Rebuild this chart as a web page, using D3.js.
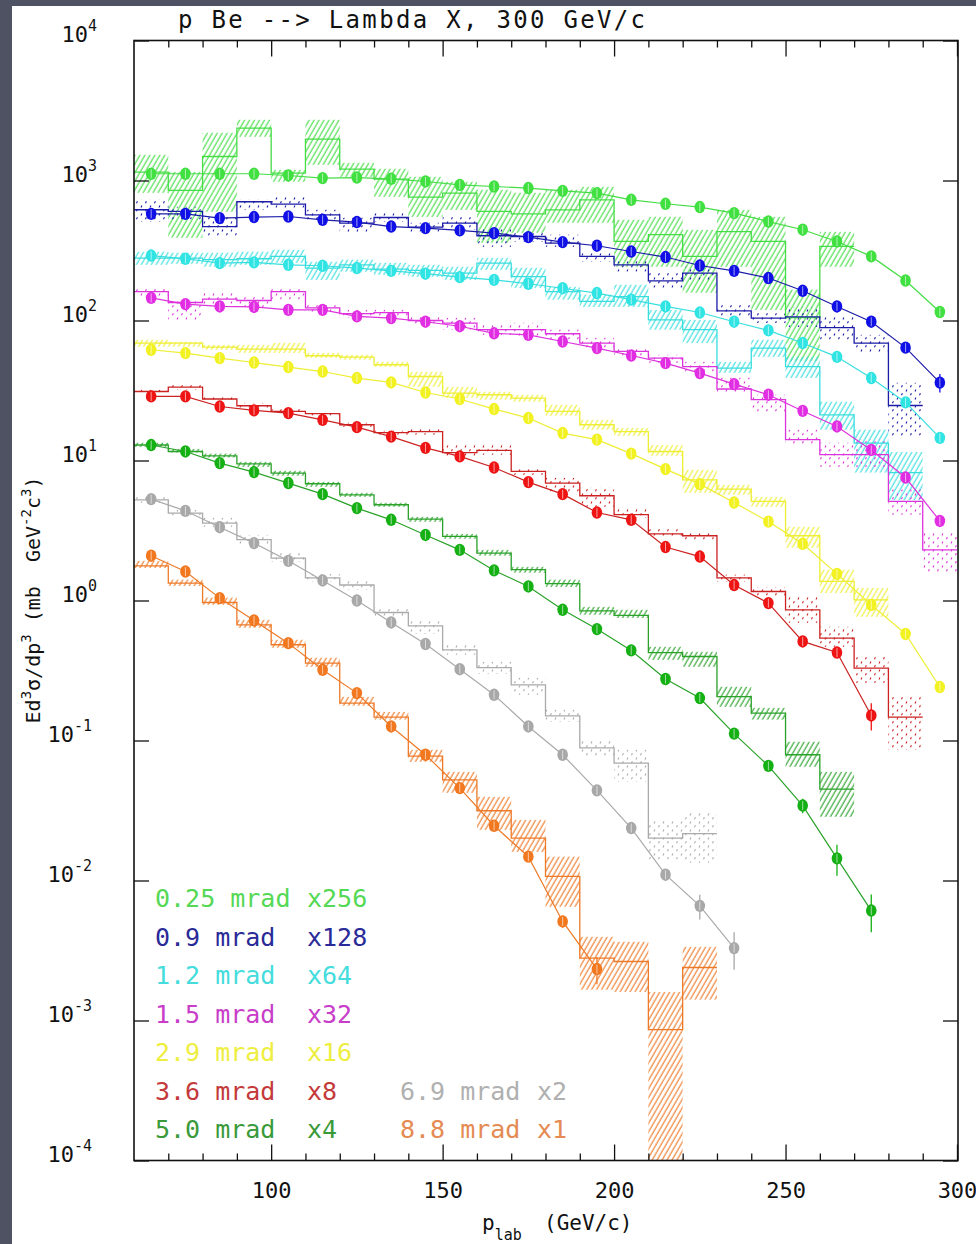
<!DOCTYPE html>
<html>
<head>
<meta charset="utf-8">
<script src="https://cdn.jsdelivr.net/npm/d3@7"></script>
<style>
  body { margin: 0; background: #4f5262; }
  svg { display: block; }
  text { font-family: "DejaVu Sans Mono", monospace; fill: #111; }
</style>
</head>
<body>
<script>
// bins of p_lab (GeV/c)
const binEdges = [60,70,80,90,100,110,120,130,140,150,160,170,180,190,200,210,220,230,240,250,260,270,280,290,300];
const binCenters = [65,75,85,95,105,115,125,135,145,155,165,175,185,195,205,215,225,235,245,255,265,275,285,295];

const angles = ["0.25","0.9","1.2","1.5","2.9","3.6","5.0","6.9","8.8"];
const factors = [256,128,64,32,16,8,4,2,1];

// measured points (already multiplied by the factor)
const pts025 = [1117,1117,1117,1117,1086,1040,1050,1028,984,931,906,883,843,813,728,682,646,585,509,445,367,287,193,115];
const pts09  = [578,578,539,548,553,524,505,469,457,440,421,394,363,342,311,284,247,226,201,163,126,98,64,36];
const pts12  = [291,276,257,260,250,246,237,226,216,204,195,183,170,157,141,126,114,98,85,69,55,38.8,26,14.5];
const pts15  = [145,131,126,125,119,119,107,104,98,91,81,79,70.8,63.5,56.2,49.6,42.1,35.1,29.5,22.6,17.5,11.9,7.56,3.7];
const pts29  = [61.8,58.5,53.9,50.1,46.5,43.2,38.8,36.1,30.6,27.5,23.3,20.1,15.7,14.1,11.2,8.68,6.78,5.01,3.66,2.54,1.55,0.93,0.577,0.241];
const pts36  = [28.7,28.7,24.3,22.8,21.8,19.5,17.3,14.8,12.3,10.7,8.91,7.01,5.75,4.25,3.77,2.41,2.06,1.29,0.958,0.51,0.425,0.151];
const pts50  = [12.9,11.6,9.58,8.26,6.9,5.75,4.57,3.77,2.94,2.3,1.64,1.26,0.858,0.625,0.44,0.275,0.201,0.112,0.0659,0.0343,0.0144,0.0061];
const pts69  = [5.3,4.37,3.34,2.57,1.92,1.39,1.0,0.697,0.489,0.323,0.212,0.126,0.0791,0.044,0.0237,0.011,0.00659,0.00329];
const pts88  = [2.09,1.61,1.04,0.72,0.496,0.32,0.218,0.126,0.0791,0.0457,0.0246,0.0148,0.0051,0.00233];

// histograms with their error band (lo / hi)
const hist025 = [1148,849,1484,2368,1130,1976,1206,1023,761,813,601,578,617,728,367,410,287,432,367,105,338];
const lo025   = [817,390,598,2052,979,1295,1063,765,550,617,359,423,499,499,242,242,158,242,119,51,242];
const hi025   = [1527,1153,2193,2714,1192,2714,1337,1213,1063,979,859,817,859,901,524,550,444,617,550,166,430];

const hist09 = [618,601,469,705,678,569,496,544,465,496,403,398,357,287,250,192,218,117,104,106,89,69,24.7];
const lo09   = [507,524,396,618,638,524,423,507,430,444,336,365,336,263,223,171,195,106,96,90,73,59,14.8];
const hi09   = [728,649,550,728,765,618,542,588,499,550,459,430,410,310,272,219,242,129,115,125,106,79,35.9];

const hist12 = [279,279,272,276,287,237,250,233,228,218,257,206,161,137,148,101,86,45.7,63.5,46.9,21.2,13.3,8.2];
const lo12   = [250,254,242,250,258,195,223,212,205,195,230,171,141,125,125,86,69,42.3,55,38.9,16.6,8.2,5.2];
const hi12   = [310,305,305,310,320,263,272,258,250,242,280,238,174,153,180,119,101,50.7,72.8,55,26.3,16.6,11.5];

const hist15 = [161,134.5,142,139,161,123,112,114,100,95.7,86,86,80.4,69,60.1,53.9,46.9,32.4,27.2,14.1,11,11,5.1,2.3];
const lo15   = [148,101,129,125,141,113.5,104.5,106,93,86,79,76.5,72.8,63.8,55,49.9,43,30.5,22.3,12.9,9,9,4.1,1.57];
const hi15   = [171,141,160,148,171,129,119,119,106,104.5,93,96.3,86,75.2,63.8,56.9,50.7,39,29.5,16.6,13.4,14.1,6.2,3.05];

const hist29 = [69,69,64.6,62.5,62.5,56,54.8,48.3,39.8,30.3,29.5,27.9,22.4,18,16.1,11.6,7.28,6.25,5.1,2.9,1.37,1.01];
const lo29   = [64.9,64.9,61.8,58.7,58.7,54.2,52.4,46.7,33.6,28,27.2,26.3,20.9,16.6,15,10.8,5.88,5.69,4.67,2.38,1.13,0.765];
const hi29   = [72.8,70.5,67,67,69.3,58.7,56.9,50.7,43,33.6,31,29.5,25,19.5,17.1,12.9,8.58,6.7,5.5,3.36,1.66,1.23];

const hist36 = [31.1,33.4,27.5,24.6,22.4,21.6,18,15.8,16.1,11.4,11.8,8.35,6.9,5.6,4.1,2.99,2.9,1.45,1.16,0.858,0.539,0.329,0.147];
const lo36   = [30.5,32,26.7,23.8,21.9,20.9,17.4,15.3,15.3,10.8,11,7.9,5.88,4.67,3.9,2.85,2.72,1.36,1.06,0.693,0.467,0.258,0.0859];
const hi36   = [32,34.7,28.5,25.8,23.4,22.3,18.6,16.3,17.1,12.9,12.9,8.87,7.52,6.38,4.59,3.25,3.1,1.53,1.25,1.06,0.649,0.396,0.205];

const hist50 = [12.9,11.6,10.8,9.47,8.13,6.82,5.69,4.83,3.81,2.87,2.18,1.66,1.32,0.843,0.782,0.425,0.398,0.206,0.157,0.0791,0.045];
const lo50   = [12.5,11.4,10.5,9.01,7.78,6.49,5.5,4.67,3.65,2.76,2.09,1.58,1.25,0.791,0.751,0.377,0.336,0.174,0.141,0.0649,0.0285];
const hi50   = [13.4,12.1,11.2,9.79,8.44,7.04,5.88,4.99,3.96,2.99,2.3,1.74,1.41,0.901,0.858,0.467,0.43,0.242,0.171,0.098,0.0597];

const hist69 = [5.24,4.21,3.57,2.72,2.01,1.45,1.29,0.821,0.659,0.444,0.332,0.25,0.15,0.0887,0.069,0.0201,0.0216];
const lo69   = [4.99,4.03,3.36,2.5,1.89,1.36,1.19,0.765,0.578,0.41,0.299,0.212,0.136,0.0764,0.0507,0.0141,0.0134];
const hi69   = [5.5,4.44,3.9,2.94,2.19,1.55,1.41,0.887,0.728,0.483,0.365,0.281,0.166,0.101,0.0859,0.0271,0.0305];

const hist88 = [1.77,1.33,0.968,0.67,0.483,0.357,0.185,0.147,0.0774,0.0524,0.0315,0.0201,0.0107,0.00279,0.00264,0.00086,0.00239];
const lo88   = [1.71,1.27,0.932,0.638,0.459,0.336,0.177,0.141,0.0704,0.0423,0.023,0.016,0.00649,0.00166,0.0016,0.00005,0.00141];
const hi88   = [1.92,1.41,1.05,0.728,0.524,0.39,0.205,0.16,0.0859,0.0597,0.0396,0.0271,0.0148,0.00396,0.00365,0.0016,0.00336];

// visible error bars: [series, point index, relative error]
const errBars = [[6,19,0.12],[6,20,0.25],[6,21,0.3],[7,15,0.1],[7,16,0.2],[7,17,0.3],[5,21,0.22],[8,12,0.1],[8,13,0.22],[1,23,0.15]];

const xTickLabels = [100,150,200,250,300];
const yDecades = [-4,-3,-2,-1,0,1,2,3,4];

// colours: marks, lines, legend
const markColors   = ["#3fe03f","#1010e6","#30e4e4","#e22ee2","#f2f222","#ee1414","#14b014","#a8a8a8","#f27820"];
const lineColors   = ["#44dd44","#1c1ca8","#38dede","#dd33dd","#eeee33","#cc2222","#2aa22a","#aaaaaa","#ee7a28"];
const legendColors = ["#55d855","#2a2a98","#44dcdc","#c83ec8","#eeee40","#c43a3a","#3a9a3a","#b0b0b0","#e48a52"];
const fillStyle = ["hatch","dots","hatch","dots","hatch","dots","hatch","dots","hatch"];

const series = [
  {pts: pts025, hist: hist025, lo: lo025, hi: hi025},
  {pts: pts09,  hist: hist09,  lo: lo09,  hi: hi09},
  {pts: pts12,  hist: hist12,  lo: lo12,  hi: hi12},
  {pts: pts15,  hist: hist15,  lo: lo15,  hi: hi15},
  {pts: pts29,  hist: hist29,  lo: lo29,  hi: hi29},
  {pts: pts36,  hist: hist36,  lo: lo36,  hi: hi36},
  {pts: pts50,  hist: hist50,  lo: lo50,  hi: hi50},
  {pts: pts69,  hist: hist69,  lo: lo69,  hi: hi69},
  {pts: pts88,  hist: hist88,  lo: lo88,  hi: hi88}
];
series.forEach((s, i) => {
  s.err = s.pts.map(() => 0.04);
  s.mark = markColors[i]; s.line = lineColors[i]; s.fill = fillStyle[i];
});
errBars.forEach(([si, pi, e]) => { series[si].err[pi] = e; });

const width = 976, height = 1244;
const plotLeft = 134, plotRight = 958;

const svg = d3.select("body").append("svg")
  .attr("width", width)
  .attr("height", height);

svg.append("rect").attr("width", width).attr("height", height).attr("fill", "#4f5262");
svg.append("rect").attr("x", 12).attr("y", 6).attr("width", width - 12).attr("height", height - 6).attr("fill", "white");

const x = d3.scaleLinear().domain([60, 300]).range([plotLeft, 957]);
const y = d3.scaleLog().domain([1e-4, 1e4]).range([1160.5, 40.5]);
const plotTop = y(1e4), plotBottom = y(1e-4);

const defs = svg.append("defs");
defs.append("clipPath").attr("id", "clip")
  .append("rect").attr("x", plotLeft).attr("y", plotTop)
  .attr("width", plotRight - plotLeft).attr("height", plotBottom - plotTop);

// fill patterns for the error bands
series.forEach((s, i) => {
  const pat = defs.append("pattern").attr("id", "pat" + i).attr("patternUnits", "userSpaceOnUse");
  if (s.fill === "hatch") {
    pat.attr("width", 4.3).attr("height", 10).attr("patternTransform", "rotate(30)");
    pat.append("line").attr("x1", 1).attr("x2", 1).attr("y1", 0).attr("y2", 10)
      .attr("stroke", s.line).attr("stroke-width", 1.1);
  } else {
    pat.attr("width", 9).attr("height", 8);
    pat.append("path").attr("d", "M1.5,3.2 l0.9,-2 M6,7.4 l0.9,-2")
      .attr("stroke", s.line).attr("stroke-width", 1.1).attr("fill", "none");
  }
});

const plot = svg.append("g").attr("clip-path", "url(#clip)");
const bandLayer = plot.append("g");
const histLayer = plot.append("g");
const curveLayer = plot.append("g");
const markLayer = plot.append("g");

const stepLine = d3.line().x(d => x(d[0])).y(d => y(d[1])).curve(d3.curveStepAfter);
const curve = d3.line().x(d => x(d[0])).y(d => y(d[1]));

series.forEach((s, i) => {
  const n = s.hist.length;
  const bins = s.hist.map((h, j) => ({x0: binEdges[j], x1: binEdges[j + 1], lo: s.lo[j], hi: s.hi[j]}));

  bandLayer.append("g").selectAll("rect")
    .data(bins)
    .join("rect")
    .attr("x", d => x(d.x0))
    .attr("width", d => x(d.x1) - x(d.x0))
    .attr("y", d => y(d.hi))
    .attr("height", d => y(d.lo) - y(d.hi))
    .attr("fill", `url(#pat${i})`);

  const steps = s.hist.map((h, j) => [binEdges[j], h]).concat([[binEdges[n], s.hist[n - 1]]]);
  histLayer.append("path")
    .attr("d", stepLine(steps))
    .attr("fill", "none")
    .attr("stroke", s.line)
    .attr("stroke-width", 1.3);

  const pts = s.pts.map((v, j) => ({p: binCenters[j], v: v, e: s.err[j]}));
  curveLayer.append("path")
    .attr("d", curve(pts.map(d => [d.p, d.v])))
    .attr("fill", "none")
    .attr("stroke", s.line)
    .attr("stroke-width", 1.2);

  const mg = markLayer.append("g");
  mg.selectAll("line.err")
    .data(pts)
    .join("line")
    .attr("class", "err")
    .attr("x1", d => x(d.p)).attr("x2", d => x(d.p))
    .attr("y1", d => y(d.v * (1 + d.e))).attr("y2", d => y(d.v * (1 - d.e)))
    .attr("stroke", s.mark).attr("stroke-width", 1.3);
  mg.selectAll("ellipse")
    .data(pts)
    .join("ellipse")
    .attr("cx", d => x(d.p)).attr("cy", d => y(d.v))
    .attr("rx", 5.3).attr("ry", 6.2)
    .attr("fill", s.mark);
  mg.selectAll("line.in")
    .data(pts)
    .join("line")
    .attr("class", "in")
    .attr("x1", d => x(d.p)).attr("x2", d => x(d.p))
    .attr("y1", d => y(d.v) - 4.5).attr("y2", d => y(d.v) + 4.5)
    .attr("stroke", "white").attr("stroke-opacity", 0.6).attr("stroke-width", 1);
});

// axes: ticks pointing inwards on all four sides
const xMinor = d3.range(70, 300, 10).filter(v => v % 50 !== 0);
const noDomain = g => g.select(".domain").remove();

svg.append("g").attr("transform", `translate(0,${plotBottom})`)
  .call(d3.axisBottom(x).tickValues(xMinor).tickSize(-7).tickFormat(""))
  .call(noDomain);
svg.append("g").attr("transform", `translate(0,${plotTop})`)
  .call(d3.axisTop(x).tickValues(xMinor).tickSize(-7).tickFormat(""))
  .call(noDomain);
svg.append("g").attr("transform", `translate(0,${plotTop})`)
  .call(d3.axisTop(x).tickValues(xTickLabels).tickSize(-16).tickFormat(""))
  .call(noDomain);
svg.append("g").attr("transform", `translate(0,${plotBottom})`)
  .call(d3.axisBottom(x).tickValues(xTickLabels).tickSize(-16).tickPadding(22).tickFormat(d3.format("d")))
  .call(noDomain)
  .call(g => g.selectAll("text")
    .attr("font-family", "DejaVu Sans Mono")
    .attr("font-size", 22)
    .attr("fill", "#111"));

const decadeVals = yDecades.map(k => Math.pow(10, k));
svg.append("g").attr("transform", `translate(${plotLeft},0)`)
  .call(d3.axisLeft(y).tickValues(decadeVals).tickSize(-15).tickFormat(""))
  .call(noDomain);
svg.append("g").attr("transform", `translate(${plotRight},0)`)
  .call(d3.axisRight(y).tickValues(decadeVals).tickSize(-15).tickFormat(""))
  .call(noDomain);
svg.selectAll(".tick line").attr("stroke", "#111").attr("stroke-width", 1.3);

// y tick labels 10^k
const ylab = svg.append("g").selectAll("text")
  .data(yDecades)
  .join("text")
  .attr("x", k => k < 0 ? 92 : 97)
  .attr("y", k => y(Math.pow(10, k)) + 1.5)
  .attr("text-anchor", "end")
  .attr("font-size", 22);
ylab.append("tspan").text("10");
ylab.append("tspan").attr("dy", -11).attr("font-size", 15).text(k => String(k));

// frame
svg.append("rect")
  .attr("x", plotLeft).attr("y", plotTop)
  .attr("width", plotRight - plotLeft).attr("height", plotBottom - plotTop)
  .attr("fill", "none").attr("stroke", "#111").attr("stroke-width", 1.6);

// title
svg.append("text")
  .attr("x", 178).attr("y", 28)
  .attr("font-size", 24)
  .attr("textLength", 467)
  .attr("lengthAdjust", "spacing")
  .text("p Be --> Lambda X, 300 GeV/c");

// x axis title
const xt = svg.append("text").attr("x", 482).attr("y", 1230).attr("font-size", 21);
xt.append("tspan").text("p");
xt.append("tspan").attr("dy", 10).attr("font-size", 15).text("lab");
xt.append("tspan").attr("x", 544).attr("dy", -10).text("(GeV/c)");

// y axis title
const yt = svg.append("text")
  .attr("transform", "translate(40,600) rotate(-90)")
  .attr("text-anchor", "middle")
  .attr("font-size", 20);
yt.append("tspan").text("Ed");
yt.append("tspan").attr("dy", -9).attr("font-size", 14).text("3");
yt.append("tspan").attr("dy", 9).text("σ/dp");
yt.append("tspan").attr("dy", -9).attr("font-size", 14).text("3");
yt.append("tspan").attr("dy", 9).text(" (mb\u00a0\u00a0GeV");
yt.append("tspan").attr("dy", -9).attr("font-size", 14).text("-2");
yt.append("tspan").attr("dy", 9).text("c");
yt.append("tspan").attr("dy", -9).attr("font-size", 14).text("3");
yt.append("tspan").attr("dy", 9).text(")");

// legend: first seven in one column, last two beside the bottom rows
const legend = svg.append("g").selectAll("g")
  .data(angles.map((a, i) => ({a, f: factors[i], i})))
  .join("g")
  .attr("transform", d => {
    const col = d.i < 7 ? 0 : 1;
    const row = d.i < 7 ? d.i : d.i - 2;
    return `translate(${col ? 400 : 155},${907 + row * 38.5})`;
  });
legend.append("text")
  .attr("font-size", 25)
  .style("fill", d => legendColors[d.i])
  .text(d => `${d.a} mrad`);
legend.append("text")
  .attr("x", d => d.i < 7 ? 152 : 137)
  .attr("font-size", 25)
  .style("fill", d => legendColors[d.i])
  .text(d => `x${d.f}`);
</script>
</body>
</html>
